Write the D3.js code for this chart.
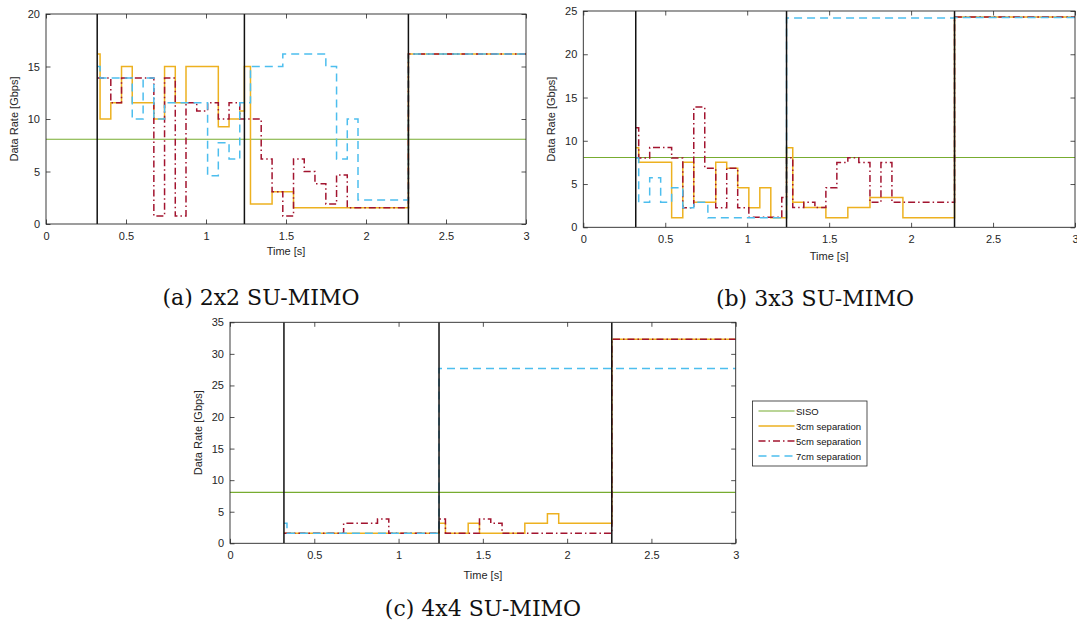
<!DOCTYPE html>
<html>
<head>
<meta charset="utf-8">
<script src="https://cdn.jsdelivr.net/npm/d3@7"></script>
<style>
  body { margin: 0; background: #fff; }
  svg { display: block; }
  .tick text { font-family: "Liberation Sans", Arial, sans-serif; font-size: 11px; fill: #262626; }
  .tick line { stroke: #262626; stroke-width: 0.8; }
</style>
</head>
<body>
<svg id="fig" width="1077" height="626"></svg>
<script>
// ---- data -------------------------------------------------------------
const timeTicks = [0, 0.5, 1, 1.5, 2, 2.5, 3];
const timeTickLabels = ["0", "0.5", "1", "1.5", "2", "2.5", "3"];
const phaseBoundaries = [0.32, 1.24, 2.265];   // black vertical markers [s]
const sisoRate = 8.07;                          // Gbps, constant over the run

const seriesNames = ["SISO", "3cm separation", "5cm separation", "7cm separation"];

// step series: [start time (s), rate (Gbps)], each value held until the next start
const a3cm = [[0.32,16.2],[0.338,10.0],[0.405,11.55],[0.472,15.0],[0.539,11.55],[0.674,10.0],
  [0.741,15.0],[0.808,11.55],[0.875,15.0],[1.077,9.27],[1.144,10.0],[1.211,10.76],[1.24,15.0],
  [1.278,1.9],[1.413,3.08],[1.547,1.55],[2.265,16.2]];
const a5cm = [[0.32,13.9],[0.405,11.55],[0.472,13.9],[0.674,0.76],[0.741,13.9],[0.808,0.76],
  [0.875,11.55],[0.942,10.76],[1.010,11.55],[1.077,10.0],[1.144,11.55],[1.211,10.0],[1.345,6.19],
  [1.413,3.08],[1.480,0.76],[1.547,6.19],[1.614,5.0],[1.681,3.84],[1.749,1.9],[1.816,4.67],
  [1.883,1.55],[2.265,16.2]];
const a7cm = [[0.32,15.0],[0.338,13.9],[0.539,10.0],[0.607,13.9],[0.674,10.0],[0.741,11.55],
  [1.010,4.6],[1.077,7.74],[1.144,6.19],[1.211,11.55],[1.278,15.0],[1.480,16.2],[1.749,15.0],
  [1.816,6.19],[1.883,10.0],[1.950,2.29],[2.265,16.2]];

const b3cm = [[0.32,9.2],[0.338,7.52],[0.539,1.11],[0.607,7.52],[0.674,2.89],[0.808,7.52],
  [0.875,6.83],[0.942,4.58],[1.010,2.27],[1.077,4.58],[1.144,1.11],[1.24,9.2],[1.278,2.89],
  [1.345,2.28],[1.480,1.11],[1.614,2.28],[1.749,3.43],[1.950,1.11],[2.265,24.3]];
const b5cm = [[0.32,11.5],[0.338,8.0],[0.405,9.21],[0.539,8.0],[0.607,2.27],[0.674,13.89],
  [0.741,6.83],[0.808,2.27],[0.875,6.83],[0.942,2.27],[1.010,1.15],[1.211,3.43],[1.24,8.05],
  [1.278,2.28],[1.345,2.89],[1.413,2.28],[1.480,4.58],[1.547,7.48],[1.614,8.05],[1.681,7.48],
  [1.749,2.89],[1.816,7.48],[1.883,2.89],[2.265,24.3]];
const b7cm = [[0.32,8.0],[0.338,2.89],[0.405,5.74],[0.472,2.89],[0.539,4.58],[0.607,2.27],
  [0.674,2.89],[0.76,1.11],[1.24,24.2],[2.265,24.25]];

const c3cm = [[0.32,1.58],[1.24,3.17],[1.278,1.58],[1.413,3.17],[1.480,1.58],[1.749,3.17],
  [1.883,4.69],[1.950,3.17],[2.265,32.3]];
const c5cm = [[0.32,1.58],[0.674,3.17],[0.875,3.85],[0.942,1.58],[1.24,3.85],[1.278,1.58],
  [1.480,3.85],[1.547,3.17],[1.614,1.58],[2.265,32.3]];
const c7cm = [[0.32,3.17],[0.338,1.58],[1.24,27.7]];

const aRateTicks = [0, 5, 10, 15, 20];
const bRateTicks = [0, 5, 10, 15, 20, 25];
const cRateTicks = [0, 5, 10, 15, 20, 25, 30, 35];

// ---- styling ---------------------------------------------------------
const colors = ["#77AC30", "#EDB120", "#A2142F", "#4DBEEE"];
const dashes = [null, null, "7,3,1.5,3", "8,5"];
const widths = [1.1, 1.5, 1.5, 1.5];
const sansFont = '"Liberation Sans", Arial, sans-serif';
const serifFont = '"DejaVu Serif", serif';

const svg = d3.select("#fig");

const panels = [
  { box: { l: 46, r: 526, t: 14, b: 224 }, yTicks: aRateTicks, xLabelGap: 31,
    series: [a3cm, a5cm, a7cm], caption: "(a) 2x2 SU-MIMO", cap: [261, 297] },
  { box: { l: 583.3, r: 1075, t: 11, b: 227.3 }, yTicks: bRateTicks, xLabelGap: 33,
    series: [b3cm, b5cm, b7cm], caption: "(b) 3x3 SU-MIMO", cap: [815, 298] },
  { box: { l: 230, r: 735.7, t: 322.3, b: 543.3 }, yTicks: cRateTicks, xLabelGap: 36,
    series: [c3cm, c5cm, c7cm], caption: "(c) 4x4 SU-MIMO", cap: [483, 608] }
];

panels.forEach((p, i) => {
  const { l, r, t, b } = p.box;
  const x = d3.scaleLinear().domain([0, 3]).range([l, r]);
  const yMax = p.yTicks[p.yTicks.length - 1];
  const y = d3.scaleLinear().domain([0, yMax]).range([b, t]);
  const g = svg.append("g");

  const clipId = "clip" + i;
  svg.append("clipPath").attr("id", clipId)
    .append("rect").attr("x", l).attr("y", t).attr("width", r - l).attr("height", b - t);

  const plot = g.append("g").attr("clip-path", `url(#${clipId})`);

  // step lines, extended to the end of the time axis
  const line = d3.line().x(d => x(d[0])).y(d => y(d[1])).curve(d3.curveStepAfter);
  const sisoData = [[0, sisoRate], [3, sisoRate]];
  const all = [sisoData].concat(p.series.map(s => s.concat([[3, s[s.length - 1][1]]])));
  all.forEach((d, k) => {
    plot.append("path").datum(d).attr("d", line)
      .attr("fill", "none").attr("stroke", colors[k])
      .attr("stroke-width", widths[k])
      .attr("stroke-dasharray", dashes[k]);
  });

  // phase boundary markers
  plot.selectAll(".phase").data(phaseBoundaries).join("line")
    .attr("x1", d => x(d)).attr("x2", d => x(d))
    .attr("y1", y(0)).attr("y2", y(yMax))
    .attr("stroke", "#111").attr("stroke-width", 1.5);

  // axes with inward ticks on all four sides
  const ax = (gen, tr) => {
    const a = g.append("g").attr("transform", tr).call(gen);
    a.select(".domain").remove();
    return a;
  };
  ax(d3.axisBottom(x).tickValues(timeTicks).tickFormat((d, j) => timeTickLabels[j])
      .tickSize(-4.5).tickPadding(8), `translate(0,${b})`);
  ax(d3.axisTop(x).tickValues(timeTicks).tickFormat("").tickSize(-4.5), `translate(0,${t})`);
  ax(d3.axisLeft(y).tickValues(p.yTicks).tickSize(-4.5).tickPadding(6), `translate(${l},0)`);
  ax(d3.axisRight(y).tickValues(p.yTicks).tickFormat("").tickSize(-4.5), `translate(${r},0)`);

  g.append("rect").attr("x", l).attr("y", t).attr("width", r - l).attr("height", b - t)
    .attr("fill", "none").attr("stroke", "#262626").attr("stroke-width", 0.9);

  g.append("text").attr("x", (l + r) / 2).attr("y", b + p.xLabelGap)
    .attr("text-anchor", "middle").attr("font-family", sansFont).attr("font-size", 11)
    .attr("fill", "#262626").text("Time [s]");

  g.append("text")
    .attr("transform", `translate(${l - 28},${(t + b) / 2}) rotate(-90)`)
    .attr("text-anchor", "middle").attr("font-family", sansFont).attr("font-size", 11)
    .attr("fill", "#262626").text("Data Rate [Gbps]");

  g.append("text").attr("x", p.cap[0]).attr("y", p.cap[1] + 7.5)
    .attr("text-anchor", "middle").attr("font-family", serifFont).attr("font-size", 22)
    .attr("fill", "#111").text(p.caption);
});

// legend
const lg = svg.append("g").attr("transform", "translate(752.5,401)");
lg.append("rect").attr("width", 114.5).attr("height", 65)
  .attr("fill", "#fff").attr("stroke", "#262626").attr("stroke-width", 0.8);
seriesNames.forEach((name, k) => {
  const yy = 10 + k * 15;
  lg.append("line").attr("x1", 6).attr("x2", 42).attr("y1", yy).attr("y2", yy)
    .attr("stroke", colors[k]).attr("stroke-width", widths[k])
    .attr("stroke-dasharray", dashes[k]);
  lg.append("text").attr("x", 43.5).attr("y", yy + 3.5)
    .attr("font-family", sansFont).attr("font-size", 9.5).attr("fill", "#111").text(name);
});
</script>
</body>
</html>
